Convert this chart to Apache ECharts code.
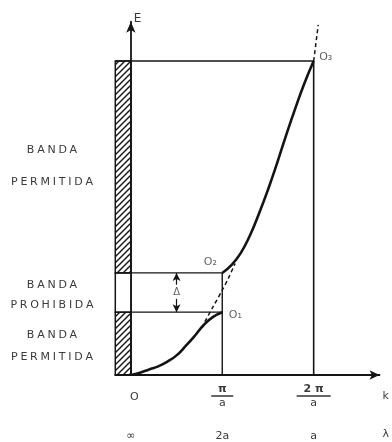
<!DOCTYPE html>
<html>
<head>
<meta charset="utf-8">
<title>Bandas de energía</title>
<script src="https://cdn.jsdelivr.net/npm/echarts@6/dist/echarts.min.js"></script>
<style>
  html, body { margin: 0; padding: 0; background: #fff; }
  #chart { width: 392px; height: 442px; }
</style>
</head>
<body>
<div id="chart"></div>
<script>
// k measured in units of π/a, energy E in arbitrary units
const kTickValues = [0, 1, 2];
const kNumerators = ['O', 'π', '2 π'];
const lambdaLabels = ['∞', '2a', 'a'];

// allowed band 1 (from origin up to O1)
const lowerBandK = [0, 0.1, 0.2, 0.3, 0.4, 0.5, 0.6, 0.7, 0.8, 0.9, 1.0];
const lowerBandE = [0, 0.03, 0.07, 0.11, 0.17, 0.25, 0.37, 0.50, 0.64, 0.74, 0.80];

// allowed band 2 (from O2 up to O3)
const upperBandK = [1.0, 1.1, 1.2, 1.3, 1.4, 1.5, 1.6, 1.7, 1.8, 1.9, 2.0];
const upperBandE = [1.30, 1.40, 1.55, 1.77, 2.05, 2.36, 2.70, 3.06, 3.40, 3.72, 4.0];

// free-electron parabola pieces (dashed)
const freeGapK = [0.81, 0.90, 1, 1.07, 1.14];
const freeGapE = [0.68, 0.87, 1.08, 1.24, 1.42];
const freeTopK = [2, 2.05];
const freeTopE = [4.0, 4.46];

// band edges
const gapBottom = 0.80;
const gapTop = 1.30;
const bandTop = 4.0;
const stripLeft = -0.17;
const deltaK = 0.5;

const bandLabels = [
  { lines: ['BANDA', 'PERMITIDA'], y: [150, 182] },
  { lines: ['BANDA', 'PROHIBIDA'], y: [285, 305] },
  { lines: ['BANDA', 'PERMITIDA'], y: [335, 357] }
];

const pairs = (xs, ys) => xs.map((x, i) => [x, ys[i]]);
const spaced = s => s.split('').join('\u2005');

// diagonal hatching tile
const tile = document.createElement('canvas');
tile.width = 6; tile.height = 6;
const g = tile.getContext('2d');
g.strokeStyle = '#151515';
g.lineWidth = 1.4;
g.beginPath();
g.moveTo(-1, 7); g.lineTo(7, -1);
g.moveTo(-1, 1); g.lineTo(1, -1);
g.moveTo(5, 7); g.lineTo(7, 5);
g.stroke();
const hatch = { image: tile, repeat: 'repeat' };

const INK = '#141414';
const TXT = '#3a3a3a';
const FONT = '"DejaVu Sans", sans-serif';

const edge = (data, w) => ({
  type: 'line', data, symbol: 'none', silent: true, z: 3,
  lineStyle: { color: INK, width: w || 1.2 }
});

const chart = echarts.init(document.getElementById('chart'), null, { renderer: 'canvas' });

const option = {
  animation: false,
  backgroundColor: '#ffffff',
  grid: { left: 115.3, right: 9.4, top: 21.75, bottom: 67 },
  xAxis: [
    {
      type: 'value', min: stripLeft, max: 2.72,
      splitLine: { show: false },
      axisTick: { show: false },
      axisLine: { show: true, symbol: ['none', 'arrow'], symbolSize: [7, 10],
        lineStyle: { color: INK, width: 1.8 } },
      name: 'k', nameLocation: 'end', nameGap: 3,
      nameTextStyle: { color: TXT, fontSize: 11, fontFamily: FONT, verticalAlign: 'top', padding: [16, 0, 0, 0] },
      axisLabel: {
        customValues: kTickValues,
        margin: 9,
        formatter: v => {
          const i = kTickValues.indexOf(v);
          if (i === 0) return '{z|' + kNumerators[0] + '}';
          return '{n|' + kNumerators[i] + '}\n{' + (i === 1 ? 'b1' : 'b2') + '| }\n{d|a}';
        },
        rich: {
          z: { fontSize: 11, fontFamily: FONT, color: TXT, lineHeight: 26, padding: [0, 0, 0, 7] },
          n: { fontSize: 11, fontFamily: FONT, color: TXT, lineHeight: 10, fontWeight: 'bold' },
          d: { fontSize: 11, fontFamily: FONT, color: TXT, lineHeight: 11 },
          b1: { width: 22, height: 1.5, lineHeight: 4, backgroundColor: '#333' },
          b2: { width: 34, height: 1.5, lineHeight: 4, backgroundColor: '#333' }
        }
      }
    },
    {
      type: 'value', min: stripLeft, max: 2.72, position: 'bottom', offset: 48,
      splitLine: { show: false },
      axisTick: { show: false },
      axisLine: { show: false },
      name: 'λ', nameLocation: 'end', nameGap: 3,
      nameTextStyle: { color: TXT, fontSize: 11, fontFamily: FONT, verticalAlign: 'top', padding: [6, 0, 0, 0] },
      axisLabel: {
        customValues: kTickValues,
        margin: 8,
        color: TXT, fontSize: 11, fontFamily: FONT,
        formatter: v => lambdaLabels[kTickValues.indexOf(v)]
      }
    }
  ],
  yAxis: {
    type: 'value', min: 0, max: 4.5,
    splitLine: { show: false },
    axisTick: { show: false },
    axisLabel: { show: false },
    axisLine: { show: true, onZero: true, symbol: ['none', 'arrow'], symbolSize: [7, 11],
      lineStyle: { color: INK, width: 1.8 } },
    name: 'E', nameLocation: 'end', nameGap: -3,
    nameTextStyle: { color: TXT, fontSize: 12, fontFamily: FONT, align: 'left', padding: [0, 0, 0, 3] }
  },
  graphic: bandLabels.flatMap(b => b.lines.map((t, i) => ({
    type: 'text', x: 52, y: b.y[i], silent: true,
    style: { text: spaced(t), align: 'center', verticalAlign: 'middle',
      fontSize: 11, fontFamily: FONT, fill: TXT }
  }))),
  series: [
    {
      // hatched strip of allowed energies plus the empty gap box
      type: 'line', data: [], silent: true, z: 1,
      markArea: {
        silent: true,
        data: [
          [{ coord: [stripLeft, gapTop], itemStyle: { color: hatch } }, { coord: [0, bandTop] }],
          [{ coord: [stripLeft, 0], itemStyle: { color: hatch } }, { coord: [0, gapBottom] }],
          [{ coord: [stripLeft, gapBottom], itemStyle: { color: '#fff' } }, { coord: [0, gapTop] }]
        ],
        itemStyle: { borderColor: INK, borderWidth: 1.5 }
      }
    },
    edge([[stripLeft, bandTop], [2, bandTop]], 1.4),
    edge([[2, bandTop], [2, 0]], 1.6),
    edge([[stripLeft, gapTop], [1, gapTop]], 1.2),
    edge([[stripLeft, gapBottom], [1, gapBottom]], 1.2),
    edge([[1, gapTop], [1, 0]], 1.4),
    {
      type: 'line', data: pairs(lowerBandK, lowerBandE), symbol: 'none',
      smooth: 0.5, z: 4,
      lineStyle: { color: INK, width: 2.6 }
    },
    {
      type: 'line', data: pairs(upperBandK, upperBandE), symbol: 'none',
      smooth: 0.5, z: 4,
      lineStyle: { color: INK, width: 2.6 }
    },
    {
      type: 'line', data: pairs(freeGapK, freeGapE), symbol: 'none', smooth: 0.3, z: 3,
      lineStyle: { color: INK, width: 1.5, type: [4, 3] }
    },
    {
      type: 'line', data: pairs(freeTopK, freeTopE), symbol: 'none', z: 3,
      lineStyle: { color: INK, width: 1.5, type: [4, 3] }
    },
    {
      // gap width arrows
      type: 'line', data: [], silent: true, z: 3,
      markLine: {
        silent: true, symbol: ['none', 'arrow'], symbolSize: [6, 8],
        label: { show: false },
        lineStyle: { color: INK, width: 1.2, type: 'solid' },
        data: [
          [{ coord: [deltaK, 1.15] }, { coord: [deltaK, gapTop] }],
          [{ coord: [deltaK, 0.97] }, { coord: [deltaK, gapBottom] }]
        ]
      }
    },
    {
      type: 'scatter', symbolSize: 0, silent: true, z: 5,
      label: { show: true, position: 'inside', formatter: p => p.name,
        color: TXT, fontSize: 11, fontFamily: FONT },
      data: [
        { name: 'Δ', value: [deltaK, (gapTop + gapBottom) / 2], label: { offset: [0, 0], fontSize: 10 } },
        { name: 'O₁', value: [1, gapBottom], label: { offset: [13, 3] } },
        { name: 'O₂', value: [1, gapTop], label: { offset: [-12, -11] } },
        { name: 'O₃', value: [2, bandTop], label: { offset: [12, -4] } }
      ]
    }
  ]
};

chart.setOption(option);
</script>
</body>
</html>
